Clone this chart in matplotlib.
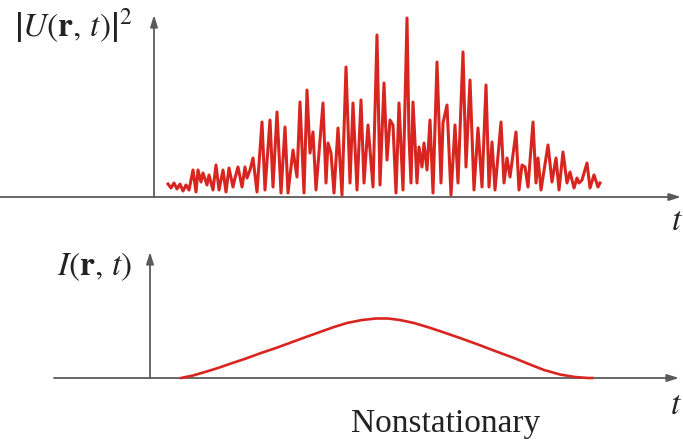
import matplotlib
matplotlib.use("Agg")
import matplotlib.pyplot as plt

plt.rcParams["mathtext.fontset"] = "stix"
plt.rcParams["font.family"] = ["Liberation Serif", "DejaVu Serif"]

RED = "#d9251f"
AXIS = "#5a5a5a"

# |U(r,t)|^2 vertices (t, value), arbitrary units
u_t = [14, 17, 20, 23, 26, 29, 32, 35,
       39, 42, 44, 47, 49, 53, 55, 59, 62, 65, 69, 72, 75, 79, 81, 84, 88, 91,
       93, 96, 99, 103, 108, 111, 116, 119, 123, 127, 131, 134, 139, 143, 146,
       150, 153, 156, 159, 162, 169, 172, 174, 177, 180, 184, 188, 192, 196,
       199, 203, 207, 210, 214, 219, 223, 226, 230, 233, 236, 239, 242, 245,
       249, 253, 255, 257, 259, 263, 265, 268, 270, 273, 276, 279, 283, 287,
       289, 293, 297, 301, 304, 309, 312, 316, 320, 324, 328, 332, 335, 338,
       341, 347, 350, 353, 356, 362, 365, 368, 371, 374, 379, 382, 384, 387,
       394, 398, 402, 405, 409, 413, 416, 420, 423, 425, 428, 433, 436, 440,
       444, 446]
u_val = [13, 9, 14, 8, 13, 6, 12, 7,
         27, 5, 27, 15, 24, 12, 22, 7, 32, 7, 27, 5, 29, 10, 19, 30, 10, 30,
         19, 27, 39, 5, 75, 7, 77, 10, 85, 4, 70, 4, 47, 20, 95, 4, 107, 44,
         65, 7, 94, 14, 54, 44, 4, 69, 2, 130, 14, 94, 7, 97, 14, 72, 10, 162,
         12, 114, 37, 77, 72, 4, 94, 7, 179, 60, 14, 95, 14, 50, 30, 54, 27,
         77, 4, 135, 14, 74, 92, 2, 72, 14, 145, 30, 117, 7, 69, 10, 112, 10,
         55, 7, 75, 14, 39, 20, 65, 7, 32, 30, 10, 75, 14, 39, 7, 52, 15, 39,
         7, 45, 14, 25, 9, 19, 14, 17, 34, 9, 22, 10, 14]

# I(r,t) (t, value), arbitrary units
i_t = [31, 43, 55, 68, 81, 96, 111, 126, 141, 156, 170, 184, 197, 212,
       226, 238, 250, 264, 279, 294, 310, 328, 345, 364, 380, 394, 410,
       425, 438, 442]
i_val = [0, 2.5, 6, 10, 14.5, 19.5, 25, 30, 35.5, 41, 46, 51, 55, 58,
         59.5, 59.5, 58, 55, 50.5, 45.5, 40, 33.5, 27, 20, 13.5, 8, 3.5,
         1, 0, 0]

fig = plt.figure(figsize=(6.83, 4.45), dpi=100)

# top panel: origin sits at (154, 197) px
ax1 = fig.add_axes([0, 0.5, 1, 0.5])
ax1.set_xlim(-154, 683 - 154)
ax1.set_ylim(-25.5, 197)
ax1.axis("off")

# bottom panel: origin sits at (150, 378) px
ax2 = fig.add_axes([0, 0, 1, 0.5])
ax2.set_xlim(-150, 683 - 150)
ax2.set_ylim(-67, 155.5)
ax2.axis("off")

arrow = dict(arrowstyle="-|>,head_length=0.7,head_width=0.22", color=AXIS,
             lw=1.3, shrinkA=0, shrinkB=0)

for ax, x0, x1, ytop in [(ax1, -154, 527, 182), (ax2, -96, 529, 126)]:
    ax.annotate("", xy=(x1, 0), xytext=(x0, 0), arrowprops=arrow)
    ax.annotate("", xy=(0, ytop), xytext=(0, 0), arrowprops=arrow)

ax1.plot(u_t, u_val, color=RED, lw=2.2, solid_joinstyle="round", zorder=3)
ax2.plot(i_t, i_val, color=RED, lw=1.9, zorder=3)

ax1.text(-21, 171, r"$\left|U(\mathbf{r},\,t)\right|^2$", fontsize=24,
         ha="right", va="center", color="#222222")
ax1.text(523, -25, r"$t$", fontsize=24, ha="center", va="center",
         color="#222222")

ax2.text(-18, 111, r"$I(\mathbf{r},\,t)$", fontsize=24,
         ha="right", va="center", color="#222222")
ax2.text(526, -28, r"$t$", fontsize=24, ha="center", va="center",
         color="#222222")
ax2.text(296, -46, "Nonstationary", fontsize=24, ha="center", va="center",
         color="#222222")

fig.savefig("out.png", dpi=100)
